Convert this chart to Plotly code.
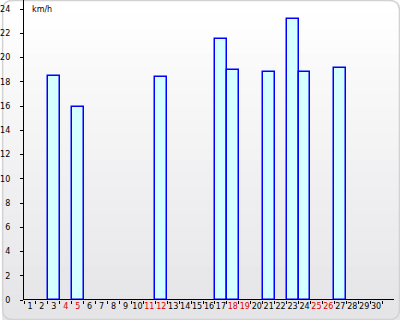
import plotly.graph_objects as go

days = [str(d) for d in range(1, 31)]
speed = [None, None, 18.5, None, 15.9, None, None, None, None, None,
         None, 18.4, None, None, None, None, 21.5, 19.0, None, None,
         18.8, None, 23.2, 18.8, None, None, 19.1, None, None, None]
weekend_days = ["4", "5", "11", "12", "18", "19", "25", "26"]
y_ticks = list(range(0, 25, 2))
unit_label = "km/h"

tick_text = [f'<span style="color:#dd0000">{d}</span>' if d in weekend_days else d for d in days]

W, H = 400, 320
L, R, T, B = 22, 6, 0, 20
pw, ph = W - L - R, H - T - B

def px(x):
    return (x - L) / pw

def py(y):
    return (H - B - y) / ph

shapes = []
n = 24
for i in range(n):
    f = i / (n - 1)
    c = int(round(255 - f * (255 - 229)))
    cb = int(round(255 - f * (255 - 232)))
    y0 = i * H / n
    y1 = (i + 1) * H / n + 0.5
    shapes.append(dict(type="rect", xref="paper", yref="paper",
                       x0=px(0), x1=px(W), y0=py(y1), y1=py(y0),
                       fillcolor=f"rgb({c},{c},{cb})", line=dict(width=0), layer="below"))
# rounded frame
r = 10
x0, x1, y0, y1 = 0.5, W - 0.5, 0.5, H - 0.5
path = (f"M {px(x0 + r)},{py(y0)} L {px(x1 - r)},{py(y0)} "
        f"Q {px(x1)},{py(y0)} {px(x1)},{py(y0 + r)} L {px(x1)},{py(y1 - r)} "
        f"Q {px(x1)},{py(y1)} {px(x1 - r)},{py(y1)} L {px(x0 + r)},{py(y1)} "
        f"Q {px(x0)},{py(y1)} {px(x0)},{py(y1 - r)} L {px(x0)},{py(y0 + r)} "
        f"Q {px(x0)},{py(y0)} {px(x0 + r)},{py(y0)} Z")
shapes.append(dict(type="path", xref="paper", yref="paper", path=path,
                   line=dict(color="#d2d2d2", width=1.5), layer="below"))
# baseline drawn over bar bottoms
shapes.append(dict(type="line", xref="paper", yref="y", x0=0, x1=1, y0=0, y1=0,
                   line=dict(color="black", width=2), layer="above"))

fig = go.Figure(go.Bar(
    x=days, y=speed,
    marker=dict(color="#d6ffff", line=dict(color="#0000ff", width=1.5)),
))

fig.update_layout(
    width=W, height=H,
    margin=dict(l=L, r=R, t=T, b=B),
    paper_bgcolor="white",
    plot_bgcolor="rgba(0,0,0,0)",
    bargap=0,
    showlegend=False,
    font=dict(family="DejaVu Sans", size=8, color="black"),
    shapes=shapes,
    annotations=[dict(text=unit_label, xref="paper", yref="paper",
                      x=px(28), y=py(9), xanchor="left", yanchor="middle",
                      showarrow=False, font=dict(size=8, color="black"))],
)
fig.update_xaxes(
    type="category", range=[-0.5, 30.5],
    tickvals=days, ticktext=tick_text, tickson="boundaries", tickangle=0,
    ticks="outside", ticklen=3, tickcolor="black", tickwidth=1,
    showline=False,
    showgrid=False, zeroline=False, fixedrange=True,
)
fig.update_yaxes(
    range=[0, 300 / 12.125], tickvals=y_ticks,
    ticks="outside", ticklen=3, tickcolor="black", tickwidth=1,
    ticklabelstandoff=8,
    showline=True, linecolor="black", linewidth=1.2,
    showgrid=False, zeroline=False, fixedrange=True,
)

fig.write_html("out.html")
